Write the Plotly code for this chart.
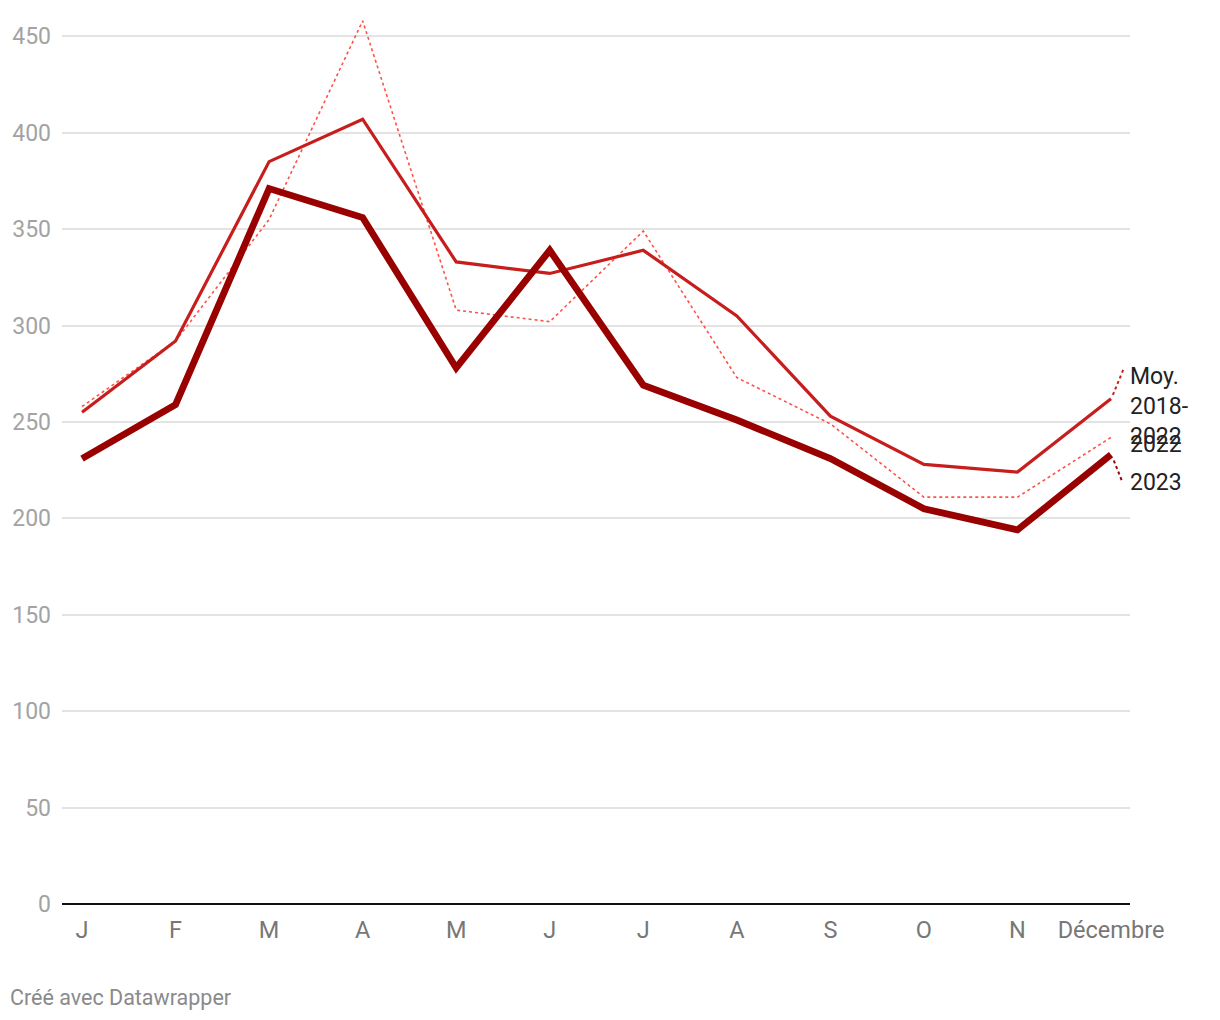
import plotly.graph_objects as go

months = ["J", "F", "M", "A", "M", "J", "J", "A", "S", "O", "N", "Décembre"]
moy_2018_2022 = [255, 292, 385, 407, 333, 327, 339, 305, 253, 228, 224, 262]
y2022 = [258, 292, 355, 458, 308, 302, 349, 273, 249, 211, 211, 242]
y2023 = [231, 259, 371, 356, 278, 339, 269, 251, 231, 205, 194, 233]
yticks = [0, 50, 100, 150, 200, 250, 300, 350, 400, 450]

xs = list(range(len(months)))

fig = go.Figure()
fig.add_trace(go.Scatter(x=xs, y=y2022, mode="lines", name="2022",
                         line=dict(color="#ff5247", width=1.6, dash="dot")))
fig.add_trace(go.Scatter(x=xs, y=moy_2018_2022, mode="lines", name="Moy. 2018-2022",
                         line=dict(color="#c71e1d", width=3.2)))
fig.add_trace(go.Scatter(x=xs, y=y2023, mode="lines", name="2023",
                         line=dict(color="#990000", width=6.8)))

last = xs[-1]
# connector lines for labels
fig.add_shape(type="line", xref="x", yref="y", x0=last + 0.02, y0=moy_2018_2022[-1] + 2,
              x1=last + 0.13, y1=moy_2018_2022[-1] + 15,
              line=dict(color="#c71e1d", width=2, dash="dot"))
fig.add_shape(type="line", xref="x", yref="y", x0=last + 0.03, y0=y2023[-1] - 3,
              x1=last + 0.12, y1=y2023[-1] - 14,
              line=dict(color="#990000", width=2, dash="dot"))

lab_font = dict(family="Roboto", size=23, color="#222222")
fig.add_annotation(xref="paper", yref="y", x=1.0, y=258, xanchor="left", yanchor="middle",
                   text="Moy.<br>2018-<br>2022", showarrow=False, font=lab_font, align="left",
                   xshift=-2)
fig.add_annotation(xref="paper", yref="y", x=1.0, y=238.5, xanchor="left", yanchor="middle",
                   text="2022", showarrow=False, font=lab_font, align="left", xshift=-2)
fig.add_annotation(xref="paper", yref="y", x=1.0, y=218.8, xanchor="left", yanchor="middle",
                   text="2023", showarrow=False, font=lab_font, align="left", xshift=-2)

fig.add_annotation(xref="paper", yref="paper", x=-54/1068, y=-(997 - 904) / 887,
                   xanchor="left", yanchor="middle", text="Créé avec Datawrapper",
                   showarrow=False, font=dict(family="Roboto", size=21.5, color="#8a8a8a"))

fig.update_layout(
    width=1220, height=1020,
    margin=dict(l=62, r=90, t=17, b=116),
    paper_bgcolor="white", plot_bgcolor="white",
    showlegend=False,
    font=dict(family="Roboto"),
    xaxis=dict(range=[-0.214, 11.203], tickmode="array", tickvals=xs, ticktext=months,
               showgrid=False, zeroline=False, showline=False, ticks="",
               ticklabelstandoff=9,
               tickfont=dict(family="Roboto", size=23.5, color="#777777")),
    yaxis=dict(range=[0, 460], tickmode="array", tickvals=yticks,
               showgrid=True, gridcolor="#e3e3e3", gridwidth=1.5,
               zeroline=True, zerolinecolor="#111111", zerolinewidth=2,
               ticks="", ticklabelstandoff=10,
               tickfont=dict(family="Roboto", size=23, color="#a3a3a3")),
)

fig.write_html("out.html")
